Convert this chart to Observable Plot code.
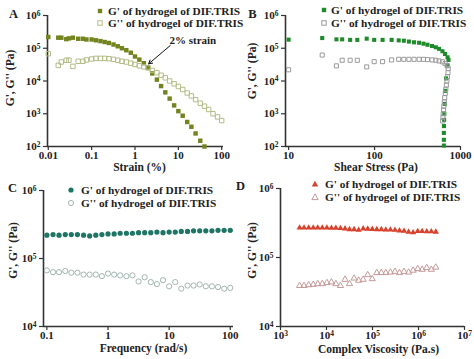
<!DOCTYPE html>
<html><head><meta charset="utf-8">
<script src="https://cdn.jsdelivr.net/npm/d3@7"></script>
<script src="https://cdn.jsdelivr.net/npm/@observablehq/plot@0.6"></script>
<style>
body{margin:0;background:#fff;}
#wrap{position:relative;width:474px;height:359px;overflow:hidden;font-family:'Liberation Serif',serif;font-weight:bold;background:#fff;}
.panel{position:absolute;}
.panel svg text{font-family:'Liberation Serif',serif;font-weight:bold;}
.leg{position:absolute;font-size:11.3px;line-height:12px;white-space:nowrap;color:#222;font-weight:bold;}
.mk{position:absolute;}
</style></head><body><div id="wrap"></div>
<script>
// ---------- shared labels ----------
const legendLabels = ["G' of hydrogel of DIF.TRIS", "G'' of hydrogel of DIF.TRIS"];
const yTitle = "G', G'' (Pa)";
const yTicksAB = [1e2, 1e3, 1e4, 1e5, 1e6];
const yTickLabelsAB = ["10^2", "10^3", "10^4", "10^5", "10^6"];
const yTicksCD = [1e4, 1e5, 1e6];
const yTickLabelsCD = ["10^4", "10^5", "10^6"];

// ---------- Panel A: strain sweep ----------
const strainA = [0.01, 0.017, 0.02, 0.026, 0.03, 0.037, 0.049, 0.063, 0.076, 0.1, 0.126, 0.16, 0.2, 0.25, 0.32, 0.4, 0.5, 0.63, 0.8, 1.0, 1.26, 1.6, 2.0, 2.5, 3.2, 4.0, 5.0, 6.3, 8.0, 10, 12.6, 16, 20, 25, 32, 40, 50, 63, 80, 100];
const gPrimeA = [2.2e5, 2.1e5, 2.1e5, 1.9e5, 2.0e5, 2.1e5, 1.95e5, 1.95e5, 1.85e5, 1.85e5, 1.75e5, 1.65e5, 1.55e5, 1.45e5, 1.3e5, 1.15e5, 1.0e5, 8.7e4, 7.3e4, 5.6e4, 4.5e4, 3.5e4, 2.6e4, 1.7e4, 1.1e4, 7.0e3, 4.5e3, 2.9e3, 1.8e3, 1.2e3, 870, 560, 400, 250, 150, 100, null, null, null, null];
const gDoubleA = [6.8e4, 3.0e4, 3.8e4, 4.3e4, 4.3e4, 2.8e4, 4.0e4, 4.0e4, 4.4e4, 4.7e4, 4.9e4, 4.9e4, 4.9e4, 4.8e4, 4.6e4, 4.3e4, 4.0e4, 3.8e4, 3.5e4, 3.2e4, 2.9e4, 2.7e4, 2.5e4, 2.1e4, 1.8e4, 1.5e4, 1.25e4, 1.0e4, 8.2e3, 6.8e3, 5.5e3, 4.3e3, 3.5e3, 2.7e3, 2.1e3, 1.7e3, 1.35e3, 1.0e3, 800, 620];
const xTicksA = [0.01, 0.1, 1, 10, 100];
const xTickLabelsA = ["0.01", "0.1", "1", "10", "100"];
const annotA = [{label: "2% strain", tx: 21.6, ty: 1.73e5, x1: 6.5, y1: 1.21e5, x2: 2.07, y2: 3.35e4}];

// ---------- Panel B: stress sweep ----------
const stressB1 = [10, 24.6, 36, 42, 52, 63, 81, 99, 124, 158, 191, 219, 251, 288, 330, 371, 413, 466, 516, 563, 617, 661, 707, 725, 705, 680, 665, 655, 648, 645, 642, 640, 640, 640];
const gPrimeB = [1.83e5, 2.05e5, 1.87e5, 1.87e5, 1.8e5, 1.8e5, 1.96e5, 1.8e5, 1.8e5, 1.8e5, 1.74e5, 1.7e5, 1.6e5, 1.52e5, 1.47e5, 1.38e5, 1.28e5, 1.17e5, 1.07e5, 9.6e4, 8.1e4, 6.7e4, 5.3e4, 4.4e4, 3.0e4, 1.2e4, 5e3, 2e3, 1e3, 650, 420, 260, 160, 107];
const stressB2 = [10, 24.6, 36, 42, 52, 63, 81, 99, 124, 158, 191, 219, 251, 288, 330, 371, 413, 466, 516, 563, 617, 661, 700, 720, 715, 705, 695, 685, 675, 665, 655, 648, 640, 635, 630, 625, 620];
const gDoubleB = [2.2e4, 6.2e4, 2.9e4, 4.3e4, 4.3e4, 4.3e4, 2.7e4, 3.9e4, 3.9e4, 4.4e4, 4.6e4, 4.6e4, 4.6e4, 4.6e4, 4.6e4, 4.6e4, 4.5e4, 4.4e4, 4.3e4, 4.1e4, 3.85e4, 3.4e4, 2.9e4, 2.4e4, 1.8e4, 1.35e4, 1.0e4, 7.5e3, 5.6e3, 4.2e3, 3.1e3, 2.3e3, 1.7e3, 1.3e3, 1.0e3, 780, 600];
const xTicksB = [10, 100, 1000];
const xTickLabelsB = ["10", "100", "1000"];

// ---------- Panel C: frequency sweep ----------
const freqC = [0.1, 0.126, 0.158, 0.2, 0.251, 0.316, 0.398, 0.501, 0.631, 0.794, 1, 1.26, 1.58, 2, 2.51, 3.16, 3.98, 5.01, 6.31, 7.94, 10, 12.6, 15.8, 20, 25.1, 31.6, 39.8, 50.1, 63.1, 79.4, 100];
const gPrimeC = [2.2e5, 2.25e5, 2.2e5, 2.25e5, 2.25e5, 2.25e5, 2.2e5, 2.15e5, 2.2e5, 2.25e5, 2.3e5, 2.3e5, 2.35e5, 2.35e5, 2.35e5, 2.4e5, 2.4e5, 2.4e5, 2.45e5, 2.4e5, 2.45e5, 2.45e5, 2.5e5, 2.5e5, 2.55e5, 2.55e5, 2.55e5, 2.55e5, 2.6e5, 2.6e5, 2.6e5];
const gDoubleC = [6.7e4, 6.3e4, 6.3e4, 6.55e4, 6.2e4, 6.2e4, 5.8e4, 5.8e4, 5.8e4, 5.5e4, 6.0e4, 5.8e4, 5.65e4, 5.5e4, 5.65e4, 4.6e4, 5.3e4, 4.5e4, 4.2e4, 4.8e4, 3.9e4, 4.5e4, 3.6e4, 4.0e4, 4.0e4, 4.15e4, 3.9e4, 3.9e4, 3.8e4, 3.6e4, 3.7e4];
const xTicksC = [0.1, 1, 10, 100];
const xTickLabelsC = ["0.1", "1", "10", "100"];

// ---------- Panel D: complex viscosity ----------
const viscD = [2600, 3250, 4100, 5150, 6450, 8100, 10200, 12800, 16000, 20100, 25300, 31700, 39800, 50000, 62700, 78700, 98800, 124000, 156000, 195000, 245000, 308000, 386000, 485000, 609000, 764000, 960000, 1200000, 1510000, 1900000, 2380000];
const gPrimeD = [2.7e5, 2.7e5, 2.7e5, 2.7e5, 2.7e5, 2.7e5, 2.7e5, 2.68e5, 2.68e5, 2.65e5, 2.62e5, 2.55e5, 2.55e5, 2.5e5, 2.62e5, 2.6e5, 2.58e5, 2.55e5, 2.55e5, 2.52e5, 2.52e5, 2.5e5, 2.45e5, 2.42e5, 2.35e5, 2.3e5, 2.4e5, 2.4e5, 2.38e5, 2.38e5, 2.35e5];
const gDoubleD = [3.9e4, 3.9e4, 4.0e4, 4.05e4, 4.15e4, 4.15e4, 4.3e4, 4.4e4, 4.15e4, 3.9e4, 4.8e4, 4.15e4, 5.0e4, 4.65e4, 4.8e4, 5.6e4, 4.9e4, 6.0e4, 6.0e4, 6.0e4, 6.1e4, 6.25e4, 6.0e4, 6.25e4, 6.1e4, 6.5e4, 6.85e4, 6.7e4, 7.1e4, 6.7e4, 7.2e4];
const xTicksD = [1e3, 1e4, 1e5, 1e6, 1e7];
const xTickLabelsD = ["10^3", "10^4", "10^5", "10^6", "10^7"];

// ---------- drawing ----------
const wrap = document.getElementById("wrap");
const pts = (xs, ys) => xs.map((x, i) => ({x, y: ys[i]})).filter(d => d.y != null && d.x != null);

function supers(svg) {
  svg.querySelectorAll("text").forEach(t => {
    const m = /^10\^(\d)$/.exec(t.textContent);
    if (m) t.innerHTML = `10<tspan dy="-0.42em" font-size="0.68em">${m[1]}</tspan>`;
  });
}

function makePanel(p) {
  const marks = [
    Plot.axisX(p.xTicks, {tickFormat: d => p.xLabels[p.xTicks.indexOf(d)], tickSize: 4, tickPadding: 1, strokeWidth: 1.2, stroke: "#333", label: null, fontSize: 11}),
    Plot.axisY(p.yTicks, {tickFormat: d => p.yLabels[p.yTicks.indexOf(d)], tickSize: 4, tickPadding: 3, strokeWidth: 1.2, stroke: "#333", label: null, fontSize: 11}),
    Plot.ruleX([p.xDomain[0]], {stroke: "#333", strokeWidth: 1.6}),
    Plot.ruleY([p.yDomain[0]], {stroke: "#333", strokeWidth: 1.6}),
    ...p.series.map(s => Plot.dot(pts(s.xs, s.ys), {x: "x", y: "y", symbol: s.symbol, r: s.r,
      fill: s.filled ? s.color : "none", stroke: s.filled ? "none" : s.color, strokeWidth: 1})),
    Plot.text([p.xTitle], {text: d => d, frameAnchor: "bottom", dy: p.xTitleDy, dx: p.xTitleDx, textAnchor: "middle", lineAnchor: "middle", fontSize: 11.5, fontWeight: "bold"}),
    Plot.text([yTitle], {text: d => d, frameAnchor: "left", dx: p.yTitleDx, dy: p.yTitleDy, rotate: -90, textAnchor: "middle", lineAnchor: "middle", fontSize: 11.5, fontWeight: "bold"}),
    Plot.text([p.letter], {text: d => d, frameAnchor: "top-left", dx: p.letterDx, dy: p.letterDy, textAnchor: "middle", lineAnchor: "middle", fontSize: 12.5, fontWeight: "bold"}),
    ...(p.extra || [])
  ];
  const svg = Plot.plot({
    width: p.width, height: p.height,
    marginLeft: p.mL, marginRight: p.mR, marginTop: p.mT, marginBottom: p.mB,
    x: {type: "log", domain: p.xDomain},
    y: {type: "log", domain: p.yDomain},
    style: {fontFamily: "'Liberation Serif', serif", fontWeight: "bold", fontSize: "11px", color: "#222", background: "transparent", overflow: "visible"},
    marks
  });
  supers(svg);
  const d = document.createElement("div");
  d.className = "panel";
  d.style.left = p.left + "px";
  d.style.top = p.top + "px";
  d.appendChild(svg);
  wrap.appendChild(d);
  // legend (HTML)
  p.series.forEach((s, i) => {
    const cy = p.legend.rows[i];
    const mk = document.createElementNS("http://www.w3.org/2000/svg", "svg");
    mk.setAttribute("width", 10); mk.setAttribute("height", 10);
    mk.setAttribute("class", "mk");
    mk.style.left = (p.legend.mx - 5) + "px";
    mk.style.top = (cy - 5) + "px";
    const fill = s.filled ? s.color : "none";
    const stroke = s.filled ? "none" : s.color;
    let shape;
    if (s.symbol === "square") shape = `<rect x="2.8" y="2.8" width="4.4" height="4.4" fill="${fill}" stroke="${stroke}"/>`;
    else if (s.symbol === "circle") shape = `<circle cx="5" cy="5" r="2.6" fill="${fill}" stroke="${stroke}"/>`;
    else shape = `<path d="M5,1.8L8.2,7.6L1.8,7.6Z" fill="${fill}" stroke="${stroke}"/>`;
    mk.innerHTML = shape;
    wrap.appendChild(mk);
    const t = document.createElement("div");
    t.className = "leg";
    t.textContent = legendLabels[i];
    t.style.left = p.legend.tx + "px";
    t.style.top = (cy - 6) + "px";
    wrap.appendChild(t);
  });
}

makePanel({
  left: 0, top: 0, width: 237, height: 180, mL: 47, mR: 14, mT: 15, mB: 34,
  xDomain: [0.0096, 110], yDomain: [1e2, 1e6],
  xTicks: xTicksA, xLabels: xTickLabelsA, yTicks: yTicksAB, yLabels: yTickLabelsAB,
  xTitle: "Strain (%)", xTitleDy: 20.5, xTitleDx: 4, yTitleDx: -37, yTitleDy: -3,
  letter: "A", letterDx: -34, letterDy: -2,
  series: [
    {xs: strainA, ys: gPrimeA, symbol: "square", r: 2.5, filled: true, color: "#73841f"},
    {xs: strainA, ys: gDoubleA, symbol: "square", r: 2.5, filled: false, color: "#b3bc86"}
  ],
  legend: {mx: 100, tx: 108, rows: [11, 23]},
  extra: [
    Plot.arrow(annotA, {x1: "x1", y1: "y1", x2: "x2", y2: "y2", stroke: "#111", strokeWidth: 1, headLength: 6}),
    Plot.text(annotA, {x: "tx", y: "ty", text: "label", fontSize: 11, fontWeight: "bold"})
  ]
});

makePanel({
  left: 237, top: 0, width: 237, height: 180, mL: 48, mR: 14, mT: 15, mB: 34,
  xDomain: [9.2, 1000], yDomain: [1e2, 1e6],
  xTicks: xTicksB, xLabels: xTickLabelsB, yTicks: yTicksAB, yLabels: yTickLabelsAB,
  xTitle: "Shear Stress (Pa)", xTitleDy: 20.5, xTitleDx: 3, yTitleDx: -33, yTitleDy: -10,
  letter: "B", letterDx: -33, letterDy: -2,
  series: [
    {xs: stressB1, ys: gPrimeB, symbol: "square", r: 2.3, filled: true, color: "#1f8a2a"},
    {xs: stressB2, ys: gDoubleB, symbol: "square", r: 2.3, filled: false, color: "#9a9a9a"}
  ],
  legend: {mx: 324, tx: 331, rows: [10, 23]}
});

makePanel({
  left: 0, top: 180, width: 237, height: 179, mL: 43, mR: 4, mT: 10, mB: 33,
  xDomain: [0.088, 113], yDomain: [1e4, 1e6],
  xTicks: xTicksC, xLabels: xTickLabelsC, yTicks: yTicksCD, yLabels: yTickLabelsCD,
  xTitle: "Frequency (rad/s)", xTitleDy: 22, xTitleDx: 5, yTitleDx: -30, yTitleDy: -8,
  letter: "C", letterDx: -31, letterDy: -3,
  series: [
    {xs: freqC, ys: gPrimeC, symbol: "circle", r: 2.6, filled: true, color: "#1e7565"},
    {xs: freqC, ys: gDoubleC, symbol: "circle", r: 2.6, filled: false, color: "#a3b6b2"}
  ],
  legend: {mx: 71, tx: 81, rows: [190, 203]}
});

makePanel({
  left: 237, top: 180, width: 237, height: 179, mL: 43, mR: 10, mT: 8, mB: 33,
  xDomain: [1e3, 1e7], yDomain: [1e4, 1e6],
  xTicks: xTicksD, xLabels: xTickLabelsD, yTicks: yTicksCD, yLabels: yTickLabelsCD,
  xTitle: "Complex Viscosity (Pa.s)", xTitleDy: 23, xTitleDx: 6, yTitleDx: -28, yTitleDy: -7,
  letter: "D", letterDx: -40, letterDy: -3,
  series: [
    {xs: viscD, ys: gPrimeD, symbol: "triangle", r: 2.3, filled: true, color: "#d8412b"},
    {xs: viscD, ys: gDoubleD, symbol: "triangle", r: 2.3, filled: false, color: "#c79a9a"}
  ],
  legend: {mx: 315, tx: 325, rows: [184, 197]}
});
</script></body></html>
